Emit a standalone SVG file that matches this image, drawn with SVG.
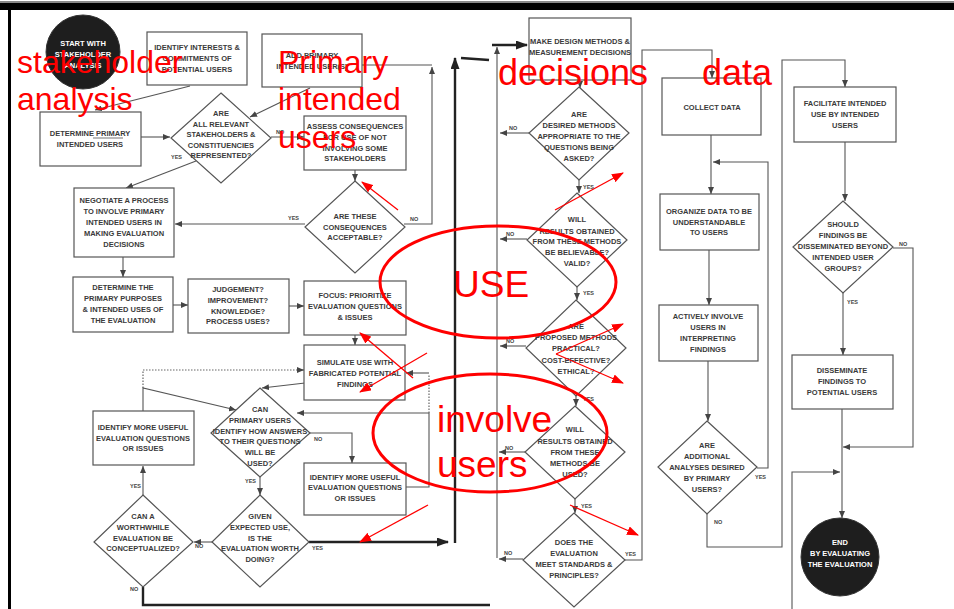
<svg xmlns="http://www.w3.org/2000/svg" width="954" height="609" viewBox="0 0 954 609">
<defs>
<marker id="ah" markerUnits="userSpaceOnUse" markerWidth="7" markerHeight="6" refX="7" refY="3" orient="auto"><path d="M0,0 L7,3 L0,6 z" fill="#444"/></marker>
<marker id="ahb" markerUnits="userSpaceOnUse" markerWidth="12" markerHeight="9" refX="11" refY="4.5" orient="auto"><path d="M0,0 L12,4.5 L0,9 z" fill="#222"/></marker>
<marker id="ahr" markerUnits="userSpaceOnUse" markerWidth="12" markerHeight="9" refX="11" refY="4.5" orient="auto"><path d="M0,0 L12,4.5 L0,9 z" fill="#f00"/></marker>
</defs>
<style>
.box{fill:#fff;stroke:#555;stroke-width:1.2}
.dia{fill:#fff;stroke:#555;stroke-width:1.2}
.circ{fill:#1e1e1e;stroke:#333;stroke-width:1}
.t{font-family:"Liberation Sans Narrow","Liberation Sans",Arial,sans-serif;font-weight:bold;font-size:7.5px;fill:#3a3a3a;text-anchor:middle}
.w{fill:#fff}
.lbl{font-family:"Liberation Sans",Arial,sans-serif;font-weight:bold;font-size:5.5px;fill:#444}
.c{fill:none;stroke:#555;stroke-width:1.1;marker-end:url(#ah)}
.cn{fill:none;stroke:#555;stroke-width:1.1}
.dot{fill:none;stroke:#666;stroke-width:1.2;stroke-dasharray:1.5 1.5}
.thick{fill:none;stroke:#222;stroke-width:2.4}
.red{font-family:"Liberation Sans",Arial,sans-serif;fill:#f00}
.ra{fill:none;stroke:#f00;stroke-width:1.3;marker-end:url(#ahr)}
.rell{fill:none;stroke:#f00;stroke-width:3}
</style>
<rect width="954" height="609" fill="#fff"/>
<!-- frame -->
<g id="frame">
<rect x="0" y="1" width="954" height="2" fill="#888"/>
<rect x="0" y="3" width="954" height="7" fill="#000"/>
<rect x="8" y="10" width="3" height="599" fill="#000"/>
</g>

<g id="connectors">
<path class="c" d="M190,86 L95,110"/>
<path class="c" d="M310,88 L250,117"/>
<path class="c" d="M141,137 H170"/>
<path class="c" d="M271,137 H304"/>
<path class="c" d="M196,161 L126,188"/>
<path class="c" d="M355,170 V181"/>
<path class="c" d="M305,224 H175"/>
<path class="c" d="M404,224 H432 V67"/>
<path class="cn" d="M432,65 H362"/>
<path class="c" d="M123,257 V277"/>
<path class="c" d="M173,305 H188"/>
<path class="c" d="M289,306 H304"/>
<path class="c" d="M355,335 V345"/>
<path class="c" d="M305,383 L262,388"/>
<path class="dot" d="M143,388 V370 H300"/>
<path class="c" d="M300,370 H304"/>
<path class="c" d="M143,411 V388 L236,410"/>
<path class="c" d="M310,433 H352 V463"/>
<path class="c" d="M406,487 H429 V413 H297"/>
<path class="dot" d="M429,413 V374"/>
<path class="c" d="M429,373 H406"/>
<path class="c" d="M260,477 V495"/>
<path class="thick" d="M309,542 H448" marker-end="url(#ahb)"/>
<path class="c" d="M212,542 H194"/>
<path class="c" d="M143,495 V466"/>
<path class="thick" d="M143,587 V605 H490"/>
<path class="thick" d="M455,543 V58" marker-end="url(#ahb)"/>
<path class="thick" d="M461,58 L489,60"/>
<path class="thick" d="M492,45 H527" marker-end="url(#ahb)"/>
<path class="c" d="M580,80 V88"/>
<path class="c" d="M497,558 V47"/>
<path class="c" d="M529,133 H500"/>
<path class="c" d="M579,180 V193"/>
<path class="c" d="M527,239 H500"/>
<path class="c" d="M577,287 V300"/>
<path class="c" d="M526,346 H500"/>
<path class="c" d="M576,396 V406"/>
<path class="c" d="M525,452 H499"/>
<path class="c" d="M575,499 V513"/>
<path class="c" d="M523,559 H499"/>
<path class="c" d="M624,560 H642 V50 H712 V78"/>
<path class="c" d="M711,135 V194"/>
<path class="c" d="M757,468 H768 V162 H713"/>
<path class="c" d="M709,250 V305"/>
<path class="c" d="M708,361 V421"/>
<path class="c" d="M707,514 V547 H782 V60 H845 V87"/>
<path class="c" d="M845,142 V201"/>
<path class="c" d="M893,248 H913 V447 H843"/>
<path class="c" d="M843,293 V355"/>
<path class="c" d="M842,409 V518"/>
<path class="c" d="M792,609 V472 H840"/>
</g>

<g id="labels">
<text class="lbl" x="276" y="134">NO</text>
<text class="lbl" x="171" y="159">YES</text>
<text class="lbl" x="288" y="220">YES</text>
<text class="lbl" x="410" y="221">NO</text>
<text class="lbl" x="314" y="441">NO</text>
<text class="lbl" x="245" y="483">YES</text>
<text class="lbl" x="312" y="550">YES</text>
<text class="lbl" x="195" y="548">NO</text>
<text class="lbl" x="130" y="488">YES</text>
<text class="lbl" x="130" y="591">NO</text>
<text class="lbl" x="509" y="130">NO</text>
<text class="lbl" x="583" y="189">YES</text>
<text class="lbl" x="506" y="236">NO</text>
<text class="lbl" x="583" y="295">YES</text>
<text class="lbl" x="506" y="343">NO</text>
<text class="lbl" x="583" y="401">YES</text>
<text class="lbl" x="505" y="450">NO</text>
<text class="lbl" x="581" y="508">YES</text>
<text class="lbl" x="504" y="555">NO</text>
<text class="lbl" x="625" y="556">YES</text>
<text class="lbl" x="755" y="479">YES</text>
<text class="lbl" x="714" y="524">NO</text>
<text class="lbl" x="899" y="246">NO</text>
<text class="lbl" x="847" y="304">YES</text>
</g>

<g id="start"><circle class="circ" cx="83" cy="52" r="37"/>
<text class="t w" x="83" y="46">START WITH</text><text class="t w" x="83" y="57">STAKEHOLDER</text><text class="t w" x="83" y="68">ANALYSIS</text></g>

<g id="identify-interests"><rect class="box" x="147" y="32" width="100" height="53"/>
<text class="t" x="197" y="50">IDENTIFY INTERESTS &amp;</text><text class="t" x="197" y="61">COMMITMENTS OF</text><text class="t" x="197" y="72">POTENTIAL USERS</text></g>

<g id="add-primary"><rect class="box" x="262" y="34" width="100" height="53"/>
<text class="t" x="312" y="58">ADD PRIMARY</text><text class="t" x="312" y="69">INTENDED USER(S)</text></g>

<g id="determine-primary"><rect class="box" x="40" y="112" width="101" height="54"/>
<text class="t" x="90" y="136">DETERMINE PRIMARY</text><text class="t" x="90" y="147">INTENDED USERS</text>
<line x1="93" y1="138" x2="123" y2="138" stroke="#3a3a3a" stroke-width="0.7"/></g>

<g id="all-relevant"><polygon class="dia" points="221,93 271,138 221,183 171,138"/>
<text class="t" x="221" y="116">ARE</text><text class="t" x="221" y="126.5">ALL RELEVANT</text><text class="t" x="221" y="137">STAKEHOLDERS &amp;</text><text class="t" x="221" y="148">CONSTITUENCIES</text><text class="t" x="221" y="158">REPRESENTED?</text></g>

<g id="assess"><rect class="box" x="304" y="116" width="102" height="54"/>
<text class="t" x="355" y="129">ASSESS CONSEQUENCES</text><text class="t" x="355" y="140">FOR USE OF NOT</text><text class="t" x="355" y="151">INVOLVING SOME</text><text class="t" x="355" y="161">STAKEHOLDERS</text></g>

<g id="acceptable"><polygon class="dia" points="355,181 405,227 355,273 305,227"/>
<text class="t" x="355" y="219">ARE THESE</text><text class="t" x="355" y="230">CONSEQUENCES</text><text class="t" x="355" y="240">ACCEPTABLE?</text></g>

<g id="negotiate"><rect class="box" x="74" y="188" width="100" height="69"/>
<text class="t" x="124" y="203">NEGOTIATE A PROCESS</text><text class="t" x="124" y="214">TO INVOLVE PRIMARY</text><text class="t" x="124" y="225">INTENDED USERS IN</text><text class="t" x="124" y="236">MAKING EVALUATION</text><text class="t" x="124" y="247">DECISIONS</text></g>

<g id="purposes"><rect class="box" x="73" y="277" width="100" height="55"/>
<text class="t" x="123" y="290">DETERMINE THE</text><text class="t" x="123" y="301">PRIMARY PURPOSES</text><text class="t" x="123" y="312">&amp; INTENDED USES OF</text><text class="t" x="123" y="323">THE EVALUATION</text></g>

<g id="judgement"><rect class="box" x="188" y="279" width="101" height="54"/>
<text class="t" x="238" y="292">JUDGEMENT?</text><text class="t" x="238" y="303">IMPROVEMENT?</text><text class="t" x="238" y="314">KNOWLEDGE?</text><text class="t" x="238" y="324">PROCESS USES?</text></g>

<g id="focus"><rect class="box" x="304" y="281" width="102" height="54"/>
<text class="t" x="355" y="298">FOCUS:  PRIORITIZE</text><text class="t" x="355" y="309">EVALUATION QUESTIONS</text><text class="t" x="355" y="320">&amp; ISSUES</text></g>

<g id="simulate"><rect class="box" x="304" y="345" width="101" height="55"/>
<text class="t" x="355" y="365">SIMULATE USE WITH</text><text class="t" x="355" y="376">FABRICATED POTENTIAL</text><text class="t" x="355" y="387">FINDINGS</text></g>

<g id="can-primary"><polygon class="dia" points="260,388 310,433 260,477 211,433"/>
<text class="t" x="260" y="412">CAN</text><text class="t" x="260" y="423">PRIMARY USERS</text><text class="t" x="260" y="434">IDENTIFY HOW ANSWERS</text><text class="t" x="260" y="444">TO THEIR QUESTIONS</text><text class="t" x="260" y="455">WILL BE</text><text class="t" x="260" y="466">USED?</text></g>

<g id="more-questions-left"><rect class="box" x="93" y="411" width="101" height="54"/>
<text class="t" x="143" y="430">IDENTIFY MORE USEFUL</text><text class="t" x="143" y="441">EVALUATION QUESTIONS</text><text class="t" x="143" y="451">OR ISSUES</text></g>

<g id="more-questions-right"><rect class="box" x="304" y="463" width="102" height="52"/>
<text class="t" x="355" y="480">IDENTIFY MORE USEFUL</text><text class="t" x="355" y="490">EVALUATION QUESTIONS</text><text class="t" x="355" y="501">OR ISSUES</text></g>

<g id="worth-doing"><polygon class="dia" points="260,495 309,542 260,587 212,542"/>
<text class="t" x="260" y="519">GIVEN</text><text class="t" x="260" y="530">EXPECTED USE,</text><text class="t" x="260" y="541">IS THE</text><text class="t" x="260" y="551">EVALUATION WORTH</text><text class="t" x="260" y="562">DOING?</text></g>

<g id="worthwhile"><polygon class="dia" points="143,495 193,542 143,587 94,542"/>
<text class="t" x="143" y="519">CAN A</text><text class="t" x="143" y="530">WORTHWHILE</text><text class="t" x="143" y="541">EVALUATION BE</text><text class="t" x="143" y="551">CONCEPTUALIZED?</text></g>

<g id="make-design"><rect class="box" x="529" y="18" width="102" height="62"/>
<text class="t" x="580" y="44">MAKE DESIGN METHODS &amp;</text><text class="t" x="580" y="55">MEASUREMENT DECISIONS</text></g>

<g id="appropriate"><polygon class="dia" points="579,87 629,133 579,180 529,133"/>
<text class="t" x="579" y="117">ARE</text><text class="t" x="579" y="128">DESIRED METHODS</text><text class="t" x="579" y="139">APPROPRIATE TO THE</text><text class="t" x="579" y="150">QUESTIONS BEING</text><text class="t" x="579" y="161">ASKED?</text></g>

<g id="believable"><polygon class="dia" points="577,193 627,240 577,287 527,240"/>
<text class="t" x="577" y="222">WILL</text><text class="t" x="577" y="234">RESULTS OBTAINED</text><text class="t" x="577" y="244">FROM THESE METHODS</text><text class="t" x="577" y="255">BE BELIEVABLE?</text><text class="t" x="577" y="266">VALID?</text></g>

<g id="practical"><polygon class="dia" points="576,300 626,348 576,396 526,348"/>
<text class="t" x="576" y="329">ARE</text><text class="t" x="576" y="340">PROPOSED METHODS</text><text class="t" x="576" y="351">PRACTICAL?</text><text class="t" x="576" y="363">COST-EFFECTIVE?</text><text class="t" x="576" y="374">ETHICAL?</text></g>

<g id="be-used"><polygon class="dia" points="575,406 625,452 575,499 525,452"/>
<text class="t" x="575" y="432">WILL</text><text class="t" x="575" y="444">RESULTS OBTAINED</text><text class="t" x="575" y="455">FROM THESE</text><text class="t" x="575" y="466">METHODS BE</text><text class="t" x="575" y="477">USED?</text></g>

<g id="standards"><polygon class="dia" points="574,513 625,560 574,607 523,560"/>
<text class="t" x="574" y="545">DOES THE</text><text class="t" x="574" y="556">EVALUATION</text><text class="t" x="574" y="567">MEET STANDARDS &amp;</text><text class="t" x="574" y="578">PRINCIPLES?</text></g>

<g id="collect"><rect class="box" x="662" y="78" width="99" height="57"/>
<text class="t" x="712" y="110">COLLECT DATA</text></g>

<g id="organize"><rect class="box" x="660" y="194" width="99" height="56"/>
<text class="t" x="709" y="214">ORGANIZE DATA TO BE</text><text class="t" x="709" y="225">UNDERSTANDABLE</text><text class="t" x="709" y="235">TO USERS</text></g>

<g id="involve"><rect class="box" x="659" y="305" width="99" height="56"/>
<text class="t" x="708" y="319">ACTIVELY INVOLVE</text><text class="t" x="708" y="330">USERS IN</text><text class="t" x="708" y="341">INTERPRETING</text><text class="t" x="708" y="352">FINDINGS</text></g>

<g id="additional"><polygon class="dia" points="707,421 757,467 707,514 658,467"/>
<text class="t" x="707" y="448">ARE</text><text class="t" x="707" y="459">ADDITIONAL</text><text class="t" x="707" y="470">ANALYSES DESIRED</text><text class="t" x="707" y="481">BY PRIMARY</text><text class="t" x="707" y="492">USERS?</text></g>

<g id="facilitate"><rect class="box" x="794" y="87" width="102" height="55"/>
<text class="t" x="845" y="106">FACILITATE INTENDED</text><text class="t" x="845" y="117">USE BY INTENDED</text><text class="t" x="845" y="128">USERS</text></g>

<g id="disseminate-q"><polygon class="dia" points="843,201 893,247 843,293 793,247"/>
<text class="t" x="843" y="227">SHOULD</text><text class="t" x="843" y="238">FINDINGS BE</text><text class="t" x="843" y="249">DISSEMINATED BEYOND</text><text class="t" x="843" y="260">INTENDED USER</text><text class="t" x="843" y="271">GROUPS?</text></g>

<g id="disseminate"><rect class="box" x="792" y="355" width="101" height="54"/>
<text class="t" x="842" y="373">DISSEMINATE</text><text class="t" x="842" y="384">FINDINGS TO</text><text class="t" x="842" y="395">POTENTIAL USERS</text></g>

<g id="end"><circle class="circ" cx="840" cy="557" r="39"/>
<text class="t w" x="840" y="545">END</text><text class="t w" x="840" y="556">BY EVALUATING</text><text class="t w" x="840" y="567">THE EVALUATION</text></g>

<g id="annotations">
<ellipse class="rell" cx="498" cy="282" rx="118" ry="56"/>
<ellipse class="rell" cx="490" cy="433" rx="117" ry="59"/>
<path class="ra" d="M398,210 L362,182"/>
<path class="ra" d="M413,378 L360,333"/>
<path class="ra" d="M427,353 L360,392"/>
<path class="ra" d="M428,505 L360,542"/>
<path class="ra" d="M555,210 L623,173"/>
<path class="ra" d="M556,354 L623,324"/>
<path class="ra" d="M556,354 L623,383"/>
<path class="ra" d="M570,505 L638,535"/>
<text class="red" x="17" y="73" font-size="32">stakeholder</text>
<text class="red" x="17" y="110" font-size="32">analysis</text>
<text class="red" x="278" y="73" font-size="32">Primary</text>
<text class="red" x="278" y="110" font-size="32">intended</text>
<text class="red" x="278" y="148" font-size="32">users</text>
<text class="red" x="498" y="85" font-size="36">decisions</text>
<text class="red" x="702" y="85" font-size="36">data</text>
<text class="red" x="453" y="297" font-size="37">USE</text>
<text class="red" x="437" y="432" font-size="37">involve</text>
<text class="red" x="437" y="477" font-size="37">users</text>
</g>
</svg>
